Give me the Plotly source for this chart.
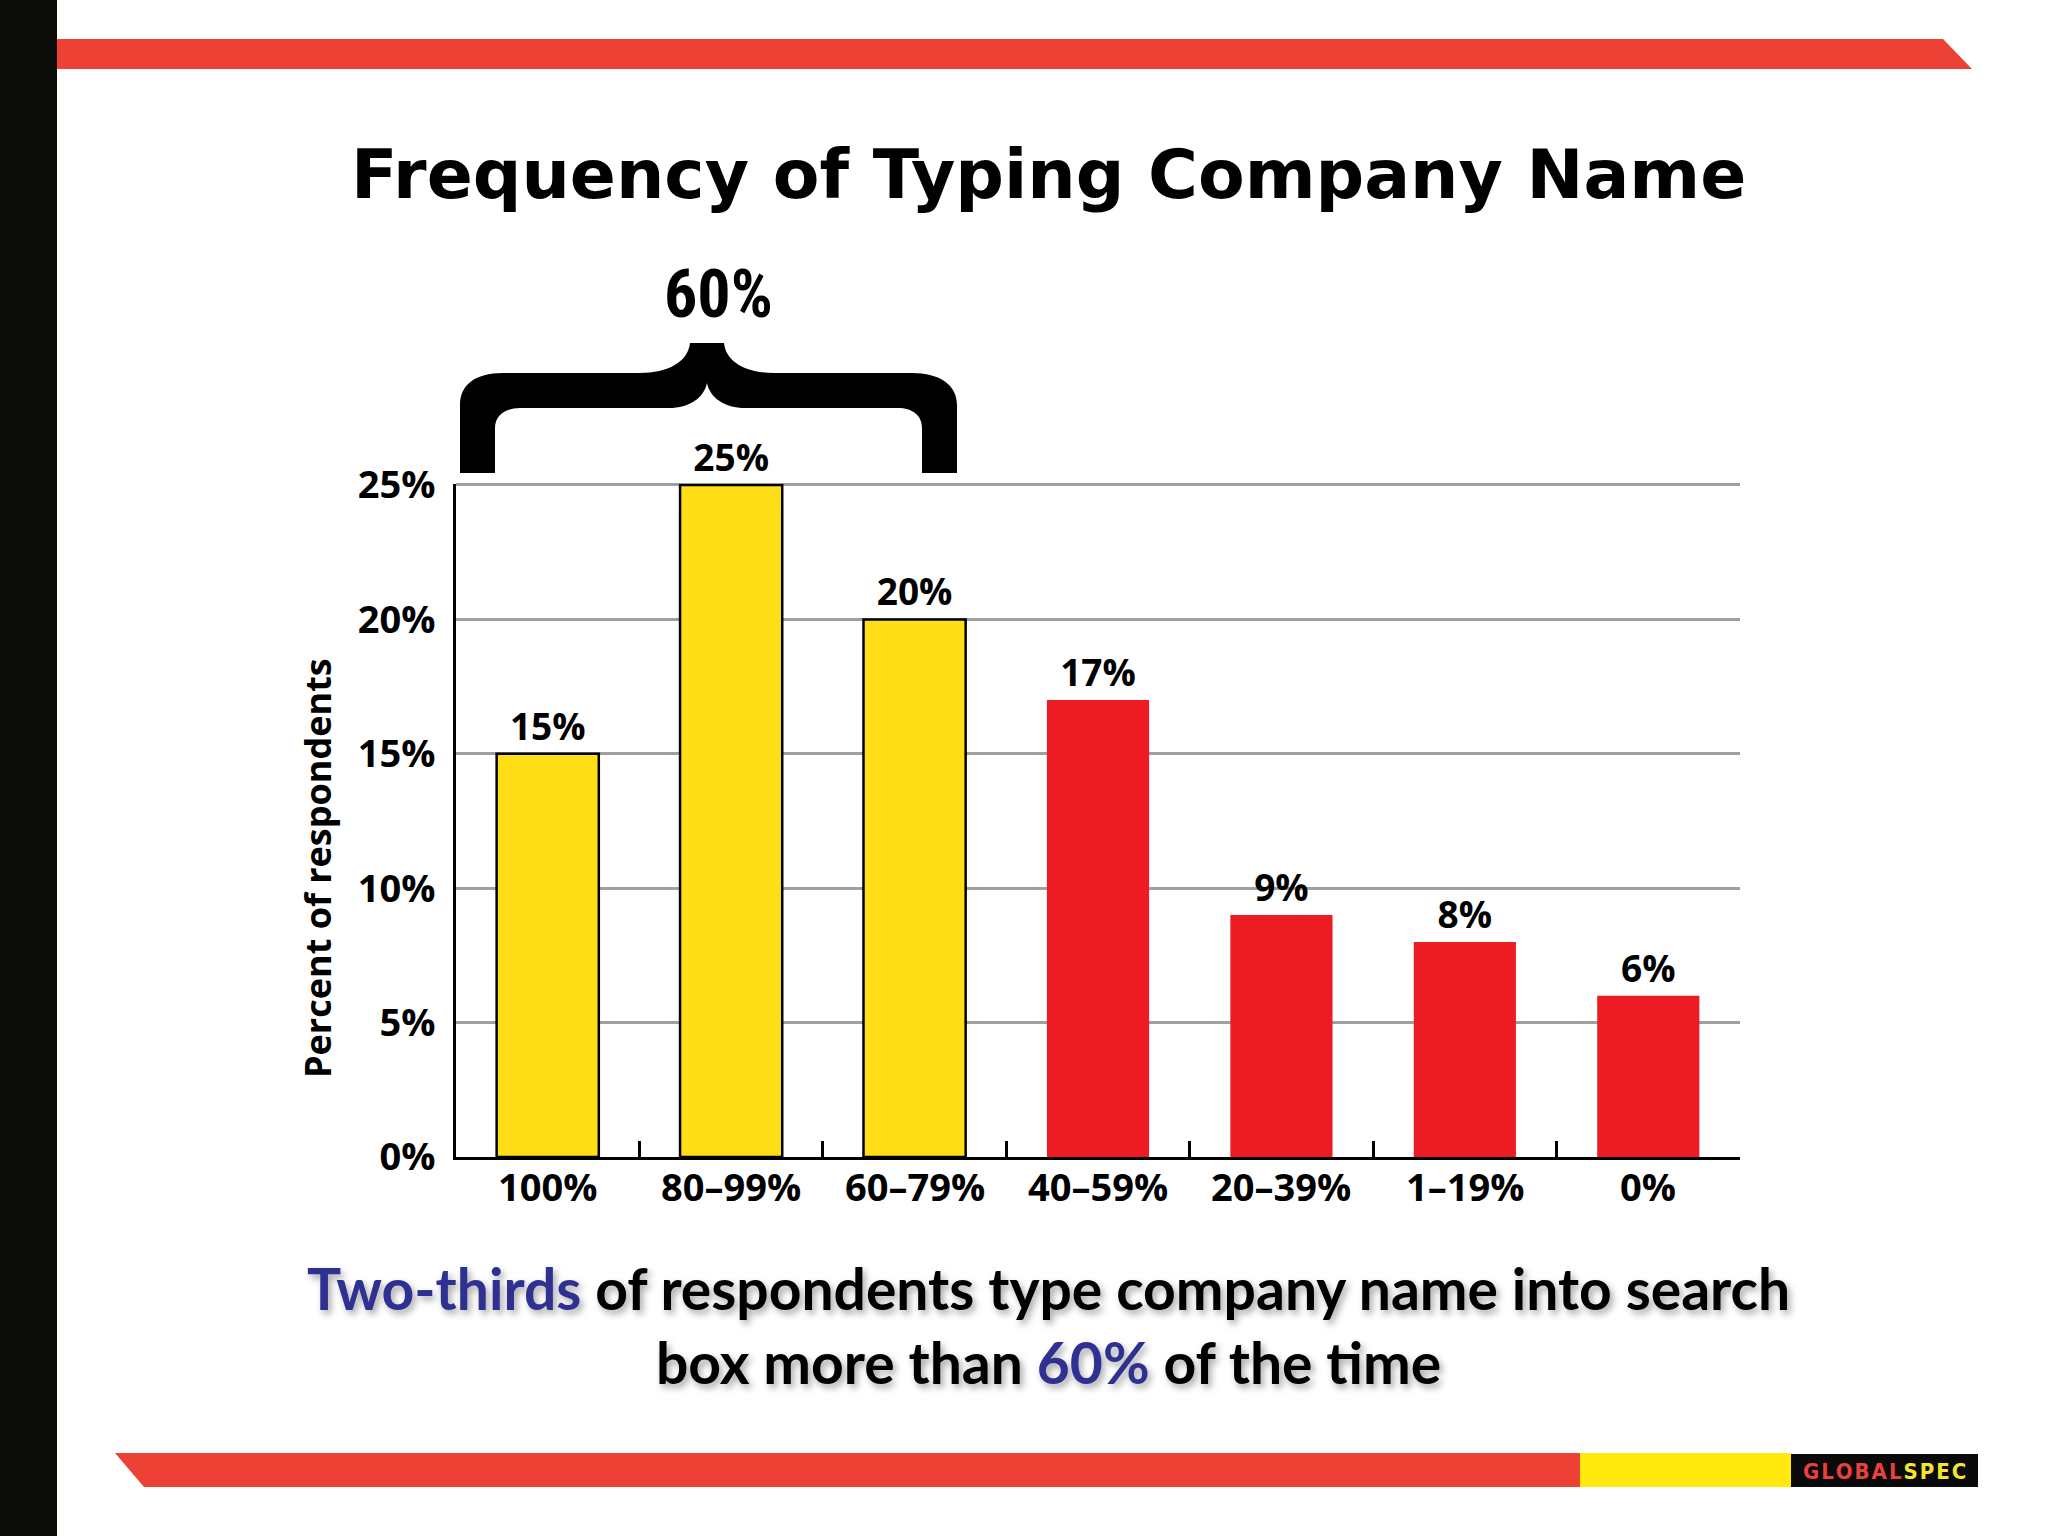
import plotly.graph_objects as go

W, H = 2048, 1536

# ---------------- data ----------------
categories = ["100%", "80\u201399%", "60\u201379%", "40\u201359%", "20\u201339%", "1\u201319%", "0%"]
respondents = [15, 25, 20, 17, 9, 8, 6]
y_ticks = [0, 5, 10, 15, 20, 25]
bracket_label = "60%"
title_text = "Frequency of Typing Company Name"
y_title = "Percent of respondents"

# ---------------- styles ----------------
YELLOW = "#FFDE17"
RED = "#ED1C24"
BAND_RED = "#EE4136"
BLUE = "#2E3192"
n_high = 3  # first three categories highlighted in yellow
bar_colors = [YELLOW if i < n_high else RED for i in range(len(categories))]
bar_line_w = [2.5 if i < n_high else 0 for i in range(len(categories))]
LABEL_FONT = "Open Sans"


def px(x):
    return x / W


def py(y):
    return 1 - y / H


def path_from_px(cmds):
    out = []
    for c in cmds:
        op = c[0]
        pts = c[1:]
        s = op + " " + " ".join(f"{px(pts[i]):.5f},{py(pts[i+1]):.5f}" for i in range(0, len(pts), 2))
        out.append(s)
    return " ".join(out) + " Z"


fig = go.Figure()
fig.add_trace(go.Bar(
    x=categories,
    y=respondents,
    width=0.557,
    marker=dict(color=bar_colors, line=dict(color="black", width=bar_line_w)),
    text=[f"{v}%" for v in respondents],
    texttemplate="%{text}",
    textposition="outside",
    textfont=dict(family=LABEL_FONT, size=37, color="black", weight="bold"),
    cliponaxis=False,
    showlegend=False,
    hoverinfo="skip",
))

# axis geometry (pixels)
x_left, x_right = 456, 1740
y_zero, y_25 = 1157, 485
top_val = 25.05
y_top = y_zero - (y_zero - y_25) * top_val / 25

fig.update_layout(
    width=W, height=H,
    margin=dict(l=0, r=0, t=0, b=0, pad=0),
    paper_bgcolor="white",
    plot_bgcolor="white",
    xaxis=dict(
        domain=[px(x_left), px(x_right)],
        range=[-0.5, len(categories) - 0.5],
        automargin=False,
        showline=True, linecolor="black", linewidth=3,
        ticks="inside", tickson="boundaries", ticklen=16, tickwidth=2.5, tickcolor="black",
        showgrid=False, zeroline=False,
        showticklabels=False,
        fixedrange=True,
    ),
    yaxis=dict(
        domain=[py(y_zero), py(y_top)],
        range=[0, top_val],
        automargin=False,
        tickvals=y_ticks,
        ticktext=[f"{v}%" for v in y_ticks],
        showline=True, linecolor="black", linewidth=3,
        ticks="",
        showgrid=True, gridcolor="#A0A0A0", gridwidth=2.5,
        zeroline=False,
        tickfont=dict(family=LABEL_FONT, size=38, color="black", weight="bold"),
        ticklabelstandoff=10,
        fixedrange=True,
    ),
)

shapes = []
# left black bar
shapes.append(dict(type="rect", xref="paper", yref="paper", x0=0, x1=px(57), y0=0, y1=1,
                   fillcolor="#0B0B07", line=dict(width=0), layer="above"))
# top red band
shapes.append(dict(type="path", xref="paper", yref="paper",
                   path=path_from_px([("M", 57, 39), ("L", 1943, 39), ("L", 1972, 69), ("L", 57, 69)]),
                   fillcolor=BAND_RED, line=dict(width=0)))
# bottom red band
shapes.append(dict(type="path", xref="paper", yref="paper",
                   path=path_from_px([("M", 115, 1453), ("L", 1581, 1453), ("L", 1581, 1487), ("L", 144, 1487)]),
                   fillcolor=BAND_RED, line=dict(width=0)))
# yellow segment
shapes.append(dict(type="rect", xref="paper", yref="paper", x0=px(1580), x1=px(1791), y0=py(1487), y1=py(1453),
                   fillcolor="#FFE90F", line=dict(width=0)))
# black logo box
shapes.append(dict(type="rect", xref="paper", yref="paper", x0=px(1791), x1=px(1978), y0=py(1487), y1=py(1454),
                   fillcolor="#0A0A0A", line=dict(width=0)))
# curly brace
brace = [
    ("M", 460, 473), ("L", 460, 405),
    ("C", 460, 385, 475, 373, 503, 373),
    ("L", 640, 373),
    ("C", 668, 373, 688, 362, 690, 343),
    ("L", 724, 343),
    ("C", 726, 362, 746, 373, 774, 373),
    ("L", 912, 373),
    ("C", 940, 373, 957, 385, 957, 405),
    ("L", 957, 473), ("L", 922, 473), ("L", 922, 428),
    ("C", 922, 415, 912, 408, 898, 408),
    ("L", 745, 408),
    ("C", 725, 408, 710, 398, 707, 383),
    ("C", 704, 398, 689, 408, 669, 408),
    ("L", 520, 408),
    ("C", 506, 408, 495, 415, 495, 428),
    ("L", 495, 473),
]
shapes.append(dict(type="path", xref="paper", yref="paper", path=path_from_px(brace),
                   fillcolor="black", line=dict(width=0)))
fig.update_layout(shapes=shapes)

hs = "\u200a"
logo_html = ("<span style='color:#E8413C'>" + hs.join("GLOBAL") + hs + "</span>"
             "<span style='color:#F5E62A'>" + hs.join("SPEC") + "</span>")

annotations = [
    dict(text=title_text, x=px(1048), y=py(174), xref="paper", yref="paper",
         showarrow=False, xanchor="center", yanchor="middle",
         font=dict(family="DejaVu Sans", size=68, color="black", weight="bold")),
    dict(text=bracket_label, x=px(718), y=py(294), xref="paper", yref="paper",
         showarrow=False, xanchor="center", yanchor="middle",
         font=dict(family="Liberation Sans Narrow, Roboto Condensed, Roboto", size=66, color="black", weight="bold")),
    dict(text=y_title, x=px(317), y=py(868), xref="paper", yref="paper", textangle=-90,
         showarrow=False, xanchor="center", yanchor="middle",
         font=dict(family=LABEL_FONT, size=36, color="black", weight="bold")),
    dict(text=(f"<span style='color:{BLUE}'>Two-thirds</span> of respondents type company name into search<br>"
               f"box more than <span style='color:{BLUE}'>60%</span> of the time"),
         x=px(1048), y=py(1325), xref="paper", yref="paper",
         showarrow=False, xanchor="center", yanchor="middle", align="center",
         font=dict(family="Lato", size=57, color="black", weight="bold",
                   shadow="3px 4px 7px rgba(0,0,0,0.35)")),
    dict(text=logo_html,
         x=px(1884), y=py(1471), xref="paper", yref="paper",
         showarrow=False, xanchor="center", yanchor="middle",
         font=dict(family="DejaVu Sans Condensed, DejaVu Sans", size=22, weight="bold")),
]
# category labels under the x axis, placed through the axis scales
for cat in categories:
    annotations.append(dict(text=cat, x=cat, y=0, xref="x", yref="y",
                            showarrow=False, xanchor="center", yanchor="middle", yshift=-29,
                            font=dict(family=LABEL_FONT, size=38, color="black", weight="bold")))
fig.update_layout(annotations=annotations)

fig.write_html("out.html",
               config={"displayModeBar": False},
               post_script="document.body.style.margin='0';document.body.style.padding='0';")
